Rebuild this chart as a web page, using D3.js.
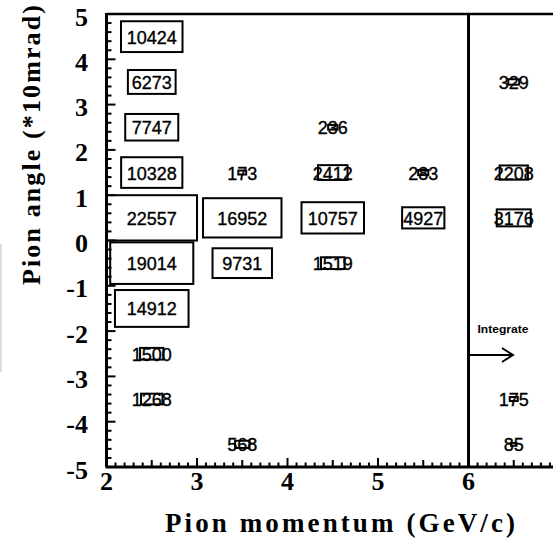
<!doctype html>
<meta charset="utf-8">
<style>
  body { margin: 0; background: #fff; }
  .num { font: 18px "Liberation Sans", Arial, sans-serif; stroke: #000; stroke-width: 0.35px; }
  .lab { font: bold 26px "Liberation Serif", "Times New Roman", serif; }
</style>
<body>
<script src="https://cdn.jsdelivr.net/npm/d3@7"></script>
<script>

// bin centres and contents
let cellP = [2.5, 2.5, 2.5, 2.5, 2.5, 2.5, 2.5, 2.5, 2.5,
             3.5, 3.5, 3.5, 3.5,
             4.5, 4.5, 4.5, 4.5,
             5.5, 5.5,
             6.5, 6.5, 6.5, 6.5, 6.5];
let cellA = [4.5, 3.5, 2.5, 1.5, 0.5, -0.5, -1.5, -2.5, -3.5,
             1.5, 0.5, -0.5, -4.5,
             2.5, 1.5, 0.5, -0.5,
             1.5, 0.5,
             3.5, 1.5, 0.5, -3.5, -4.5];
let cellN = [10424, 6273, 7747, 10328, 22557, 19014, 14912, 1500, 1268,
             173, 16952, 9731, 568,
             236, 2412, 10757, 1519,
             283, 4927,
             329, 2208, 3176, 175, 85];

let xTicks = [2, 3, 4, 5, 6, 7];
let yTicks = [5, 4, 3, 2, 1, 0, -1, -2, -3, -4, -5];
let cutP = 6; // momentum cut drawn as a line

let width = 553, height = 539;

let svg = d3.select('body').append('svg')
    .attr('width', width)
    .attr('height', height);

let x = d3.scaleLinear().domain([2, 7]).range([106.5, 559]);
let y = d3.scaleLinear().domain([-5, 5]).range([467, 14]);

let binW = x(3) - x(2), binH = y(0) - y(1);
let nMax = d3.max(cellN);

// faint grey mark at left edge
svg.append('line')
    .attr('x1', 1).attr('x2', 1).attr('y1', 244).attr('y2', 372)
    .attr('stroke', '#d0d0d0').attr('stroke-width', 1.5);

let cells = svg.append('g');
cellN.forEach((n, i) => {
  let cx = x(cellP[i]), cy = y(cellA[i]);
  cells.append('text')
      .attr('class', 'num')
      .attr('x', cx).attr('y', cy + 1)
      .attr('text-anchor', 'middle')
      .attr('dominant-baseline', 'central')
      .text(n);
  let s = Math.sqrt(n / nMax);
  cells.append('rect')
      .attr('x', cx - s * binW / 2)
      .attr('y', cy - s * binH / 2)
      .attr('width', s * binW)
      .attr('height', s * binH)
      .attr('fill', 'none')
      .attr('stroke', '#000')
      .attr('stroke-width', 2);
});

// frame
let frame = svg.append('g').attr('stroke', '#000');
frame.append('line').attr('x1', x(2)).attr('x2', width).attr('y1', y(5)).attr('y2', y(5)).attr('stroke-width', 2.5);
frame.append('line').attr('x1', x(2) - 1).attr('x2', width).attr('y1', y(-5)).attr('y2', y(-5)).attr('stroke-width', 3);
frame.append('line').attr('x1', x(2)).attr('x2', x(2)).attr('y1', y(5) - 1).attr('y2', y(-5)).attr('stroke-width', 3);
frame.append('line').attr('x1', x(cutP)).attr('x2', x(cutP)).attr('y1', y(5)).attr('y2', y(-5)).attr('stroke-width', 3);

// x ticks (inside, pointing up)
d3.range(20, 71).forEach(k => {
  let v = k / 10;
  let len = k % 10 === 0 ? 9 : (k % 5 === 0 ? 7 : 4.5);
  frame.append('line')
      .attr('x1', x(v)).attr('x2', x(v))
      .attr('y1', y(-5)).attr('y2', y(-5) - len)
      .attr('stroke-width', 2);
});
// y ticks (inside, pointing right)
d3.range(-25, 26).forEach(k => {
  let v = k / 5;
  let len = k % 5 === 0 ? 9 : 5;
  frame.append('line')
      .attr('x1', x(2)).attr('x2', x(2) + len)
      .attr('y1', y(v)).attr('y2', y(v))
      .attr('stroke-width', 2);
});

// tick labels
svg.append('g').selectAll('text').data(xTicks).enter().append('text')
    .attr('class', 'lab')
    .attr('x', d => x(d)).attr('y', 490)
    .attr('text-anchor', 'middle')
    .text(d => d);

svg.append('g').selectAll('text').data(yTicks).enter().append('text')
    .attr('class', 'lab')
    .attr('x', 88).attr('y', d => y(d) + 3)
    .attr('text-anchor', 'end')
    .attr('dominant-baseline', 'central')
    .text(d => d);

// axis titles
svg.append('text')
    .attr('class', 'lab')
    .style('font-size', '27px')
    .attr('x', 340).attr('y', 532)
    .attr('text-anchor', 'middle')
    .attr('textLength', 350).attr('lengthAdjust', 'spacing')
    .text('Pion momentum (GeV/c)');

svg.append('text')
    .attr('class', 'lab')
    .style('font-size', '26px')
    .attr('transform', 'translate(40,145) rotate(-90)')
    .attr('text-anchor', 'middle')
    .attr('textLength', 280).attr('lengthAdjust', 'spacing')
    .text('Pion angle (*10mrad)');

// integrate arrow
svg.append('text')
    .attr('x', 503).attr('y', 333)
    .attr('text-anchor', 'middle')
    .style('font', 'bold 11px "Liberation Sans", Arial, sans-serif')
    .attr('textLength', 51).attr('lengthAdjust', 'spacingAndGlyphs')
    .text('Integrate');

svg.append('path')
    .attr('d', d3.line()([[x(cutP), 355], [513, 355]]) + d3.line()([[502, 348], [513, 355], [502, 362]]))
    .attr('fill', 'none')
    .attr('stroke', '#000')
    .attr('stroke-width', 2);

</script>
</body>
